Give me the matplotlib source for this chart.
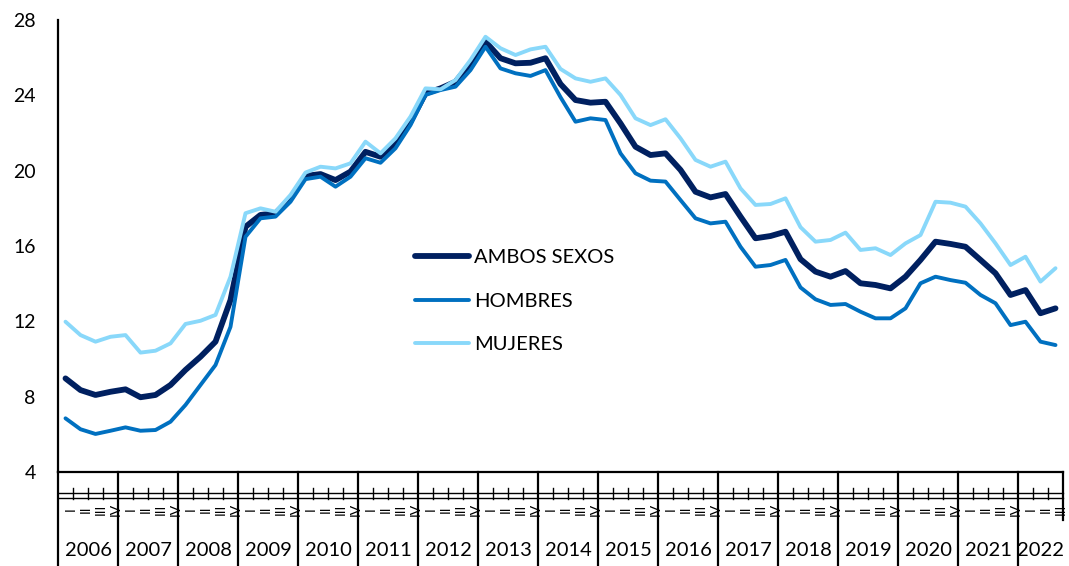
import numpy as np
import matplotlib.pyplot as plt
from matplotlib.transforms import blended_transform_factory

# quarterly series, 2006-I .. 2022-III
years = [str(y) for y in range(2006, 2023)]
quarters = ["I", "II", "III", "IV"]
n_quarters = 67

ambos = [
    8.97, 8.35, 8.09, 8.26, 8.39, 7.97, 8.09, 8.62, 9.42, 10.12, 10.92, 13.13,
    17.02, 17.65, 17.74, 18.53, 19.72, 19.82, 19.50, 19.95, 21.00, 20.74, 21.45, 22.60,
    24.10, 24.37, 24.72, 25.70, 26.85, 25.97, 25.70, 25.73, 25.97, 24.60, 23.75, 23.61,
    23.66, 22.51, 21.27, 20.83, 20.92, 20.04, 18.88, 18.58, 18.76, 17.56, 16.41, 16.53,
    16.76, 15.30, 14.64, 14.37, 14.67, 14.02, 13.93, 13.75, 14.37, 15.26, 16.23, 16.11,
    15.96, 15.26, 14.55, 13.40, 13.66, 12.43, 12.69,
]
hombres = [
    6.85, 6.27, 6.02, 6.19, 6.37, 6.19, 6.23, 6.67, 7.56, 8.62, 9.68, 11.71,
    16.49, 17.47, 17.56, 18.35, 19.55, 19.68, 19.15, 19.68, 20.66, 20.42, 21.19, 22.42,
    24.02, 24.28, 24.46, 25.34, 26.58, 25.43, 25.17, 25.03, 25.34, 23.90, 22.60, 22.78,
    22.69, 20.92, 19.86, 19.47, 19.42, 18.44, 17.47, 17.20, 17.29, 15.96, 14.90, 14.99,
    15.26, 13.80, 13.17, 12.87, 12.92, 12.51, 12.16, 12.16, 12.69, 14.02, 14.37, 14.19,
    14.05, 13.40, 12.96, 11.80, 11.98, 10.92, 10.74,
]
mujeres = [
    11.98, 11.27, 10.92, 11.18, 11.27, 10.34, 10.44, 10.83, 11.86, 12.03, 12.34, 14.37,
    17.74, 18.00, 17.82, 18.71, 19.90, 20.21, 20.12, 20.39, 21.54, 20.92, 21.72, 22.87,
    24.37, 24.32, 24.81, 25.88, 27.11, 26.50, 26.14, 26.44, 26.58, 25.40, 24.90, 24.72,
    24.90, 24.02, 22.78, 22.42, 22.73, 21.72, 20.57, 20.21, 20.48, 19.06, 18.18, 18.23,
    18.53, 17.00, 16.23, 16.32, 16.71, 15.79, 15.88, 15.52, 16.14, 16.58, 18.35, 18.30,
    18.09, 17.20, 16.14, 14.99, 15.43, 14.11, 14.82,
]

series = [
    ("AMBOS SEXOS", ambos, "#002060", 4.2),
    ("HOMBRES", hombres, "#0070C0", 2.8),
    ("MUJERES", mujeres, "#89D8FA", 2.8),
]

plt.rcParams["font.family"] = ["Lato", "DejaVu Sans"]

fig = plt.figure(figsize=(10.69, 5.66), dpi=100)
ax = fig.add_axes([58 / 1069, 1 - 472 / 566, 1005 / 1069, 452 / 566])

x = np.arange(n_quarters)
for name, vals, color, lw in series:
    ax.plot(x, vals, color=color, lw=lw, label=name,
            solid_joinstyle="round", solid_capstyle="round")

ax.set_xlim(-0.5, n_quarters - 0.5)
ax.set_ylim(4, 28)
ax.set_yticks(range(4, 29, 4))
ax.tick_params(axis="y", length=0, pad=16, labelsize=14)
ax.set_xticks([])
for side in ("top", "right"):
    ax.spines[side].set_visible(False)
for side in ("left", "bottom"):
    ax.spines[side].set_linewidth(1.6)
    ax.spines[side].set_color("black")

# two-level category axis: quarters and years
tr = blended_transform_factory(ax.transData, ax.transAxes)
px = 1 / 452  # one pixel in axes fraction
bounds = [-0.5 + 4 * k for k in range(len(years))] + [n_quarters - 0.5]
for k, b in enumerate(bounds):
    low = -94 * px if k < len(bounds) - 1 else -48 * px
    ax.plot([b, b], [0, low], transform=tr, color="black", lw=1.6, clip_on=False)
for yy in (-21 * px, -26 * px):
    ax.plot([-0.5, n_quarters - 0.5], [yy, yy], transform=tr, color="black",
            lw=1.0, clip_on=False)
for q in range(n_quarters):
    if q % 4 != 3 and q < n_quarters - 1:
        ax.plot([q + 0.5, q + 0.5], [-16 * px, -27 * px], transform=tr,
                color="black", lw=1.0, clip_on=False)
for q in range(n_quarters):
    ax.text(q + 0.35, -37 * px, quarters[q % 4], transform=tr, rotation=90,
            ha="center", va="center", fontsize=10, clip_on=False)
for k, yr in enumerate(years):
    start = bounds[k]
    end = bounds[k + 1]
    ax.text((start + end) / 2, -78 * px, yr, transform=tr, ha="center",
            va="center", fontsize=14.5, clip_on=False)

ax.legend(loc="center left", bbox_to_anchor=(415 / 1069, 1 - 301 / 566),
          bbox_transform=fig.transFigure, frameon=False, fontsize=14.5,
          handlelength=2.7, handletextpad=0.25, labelspacing=1.3,
          borderpad=0, borderaxespad=0)

fig.savefig("out.png", dpi=100)
